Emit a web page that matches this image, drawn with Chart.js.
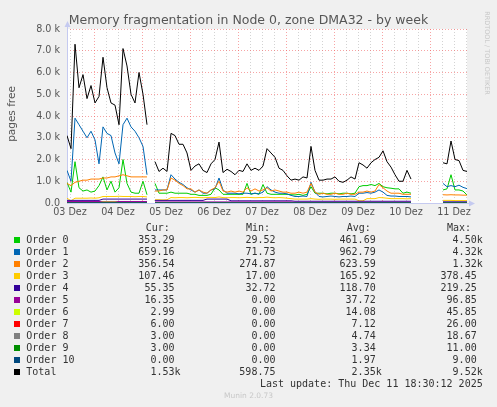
<!DOCTYPE html>
<html>
<head>
<meta charset="utf-8">
<script src="https://cdn.jsdelivr.net/npm/chart.js@4/dist/chart.umd.min.js"></script>
<style>
  body { margin: 0; background: #f0f0f0; }
  #wrap { position: relative; width: 497px; height: 407px; overflow: hidden; }
  #c { position: absolute; left: 0; top: 0; }
  .txt { position: absolute; white-space: pre; }
  .title { left: 0; width: 497px; top: 13px; text-align: center; font: 12.5px "DejaVu Sans"; line-height: 14px; color: #555; }
  .ylab { left: -39px; top: 107px; width: 100px; height: 14px; text-align: center; font: 10.5px "DejaVu Sans"; line-height: 14px; color: #555; transform: rotate(-90deg); }
  .rrd { left: 427px; top: 48px; width: 120px; height: 10px; text-align: center; font: 6.5px "DejaVu Sans"; line-height: 10px; color: #c8c8c8; transform: rotate(90deg); }
  .leg { font: 10px "DejaVu Sans Mono"; line-height: 12px; color: #333; }
  .sq { position: absolute; width: 6px; height: 6px; }
  .munin { left: 0; width: 497px; text-align: center; top: 391px; font: 7.5px "DejaVu Sans"; line-height: 9px; color: #c8c8c8; }
</style>
</head>
<body>
<div id="wrap">
  <canvas id="c" width="497" height="407"></canvas>
  <div class="txt title">Memory fragmentation in Node 0, zone DMA32 - by week</div>
  <div class="txt ylab">pages free</div>
  <div class="txt rrd">RRDTOOL / TOBI OETIKER</div>
  <div id="legend"></div>
  <div class="txt munin">Munin 2.0.73</div>
</div>
<script>
// --- data (pages free, in thousands), one sample every 2 hours from 03 Dez 10:30 ---
const dayLabels = ['03 Dez', '04 Dez', '05 Dez', '06 Dez', '07 Dez', '08 Dez', '09 Dez', '10 Dez', '11 Dez'];
const hours = Array.from({ length: 101 }, (_, i) => i * 2);

const total = [3.1, 2.5, 7.3, 5.3, 5.9, 4.8, 5.4, 4.6, 4.9, 6.7,
  5.3, 4.6, 4.5, 3.6, 7.1, 6.3, 5.0, 4.6, 6.0, 5.0,
  3.6, null, 1.9, 1.45, 1.6, 1.45, 3.2, 3.1, 2.7, 2.7,
  2.3, 1.5, 1.7, 1.8, 1.5, 1.4, 1.8, 2.0, 2.8, 1.4,
  1.55, 1.45, 1.3, 1.5, 1.45, 1.8, 1.5, 1.6, 1.5, 1.7,
  2.5, 2.3, 2.1, 1.6, 1.5, 1.25, 1.05, 1.1, 1.05, 1.2,
  1.15, 2.6, 1.5, 1.05, 1.05, 1.1, 1.1, 1.2, 1.0, 0.95,
  1.05, 1.2, 1.1, 1.85, 1.75, 1.6, 1.85, 2.0, 2.1, 2.4,
  1.9, 1.65, 1.3, 1.0, 1.0, 1.5, 1.1, null, null, null,
  null, null, null, null, 1.85, 1.8, 2.85, 2.0, 1.95, 1.5,
  1.45];

const order0 = [0.95, 0.5, 1.9, 0.7, 0.55, 0.6, 0.5, 0.55, 0.8, 1.2,
  0.6, 1.0, 0.5, 0.7, 2.0, 0.9, 0.5, 0.45, 0.45, 1.0,
  0.38, null, 0.9, 0.45, 0.45, 0.45, 0.5, 0.45, 0.45, 0.45,
  0.45, 0.4, 0.4, 0.35, 0.35, 0.35, 0.4, 0.7, 0.6, 0.4,
  0.4, 0.4, 0.4, 0.4, 0.4, 0.9, 0.4, 0.45, 0.4, 0.85,
  0.45, 0.4, 0.4, 0.4, 0.4, 0.4, 0.38, 0.37, 0.4, 0.35,
  0.4, 0.75, 0.45, 0.45, 0.45, 0.42, 0.45, 0.45, 0.42, 0.45,
  0.45, 0.42, 0.45, 0.75, 0.8, 0.8, 0.85, 0.8, 0.9, 0.75,
  0.7, 0.68, 0.65, 0.65, 0.45, 0.5, 0.45, null, null, null,
  null, null, null, null, 0.6, 0.65, 1.3, 0.6, 0.6, 0.55,
  0.37];

const order1 = [1.5, 1.0, 3.9, 3.6, 3.3, 3.0, 3.3, 2.9, 1.8, 3.5,
  3.2, 3.1, 2.3, 1.8, 3.6, 3.9, 3.5, 3.3, 3.0, 2.6,
  1.3, null, 0.6, 0.6, 0.6, 0.6, 1.3, 1.1, 0.95, 0.85,
  0.7, 0.6, 0.5, 0.6, 0.45, 0.45, 0.6, 0.65, 1.15, 0.6,
  0.45, 0.45, 0.45, 0.42, 0.45, 0.45, 0.42, 0.45, 0.42, 0.5,
  0.75, 0.6, 0.5, 0.45, 0.45, 0.42, 0.35, 0.3, 0.3, 0.32,
  0.3, 0.95, 0.5, 0.3, 0.28, 0.3, 0.32, 0.3, 0.28, 0.3,
  0.3, 0.32, 0.3, 0.45, 0.45, 0.48, 0.45, 0.5, 0.6, 0.5,
  0.35, 0.32, 0.32, 0.3, 0.3, 0.3, 0.28, null, null, null,
  null, null, null, null, 0.9, 0.75, 0.8, 0.75, 0.82, 0.72,
  0.66];

const order2 = [0.9, 0.8, 0.95, 1.0, 1.05, 1.05, 1.1, 1.1, 1.1, 1.15,
  1.15, 1.2, 1.2, 1.25, 1.3, 1.25, 1.2, 1.2, 1.2, 1.2,
  1.2, null, 0.55, 0.55, 0.6, 0.6, 1.15, 1.05, 0.9, 0.8,
  0.65, 0.65, 0.5, 0.6, 0.5, 0.45, 0.6, 0.7, 1.0, 0.55,
  0.5, 0.55, 0.5, 0.55, 0.5, 0.7, 0.55, 0.65, 0.55, 0.6,
  0.7, 0.55, 0.6, 0.55, 0.5, 0.5, 0.45, 0.45, 0.5, 0.45,
  0.5, 0.9, 0.5, 0.4, 0.45, 0.4, 0.4, 0.45, 0.4, 0.4,
  0.45, 0.4, 0.4, 0.5, 0.5, 0.55, 0.5, 0.55, 0.85, 0.7,
  0.55, 0.45, 0.45, 0.45, 0.4, 0.4, 0.4, null, null, null,
  null, null, null, null, 0.38, 0.37, 0.38, 0.37, 0.37, 0.36,
  0.36];

const order3 = [0.22, 0.1, 0.22, 0.22, 0.22, 0.22, 0.23, 0.22, 0.24, 0.3,
  0.3, 0.3, 0.3, 0.31, 0.3, 0.3, 0.3, 0.29, 0.3, 0.3,
  0.28, null, 0.15, 0.15, 0.14, 0.15, 0.25, 0.24, 0.25, 0.25,
  0.24, 0.25, 0.26, 0.25, 0.24, 0.25, 0.26, 0.25, 0.28, 0.25,
  0.24, 0.25, 0.25, 0.24, 0.25, 0.26, 0.25, 0.24, 0.25, 0.25,
  0.27, 0.25, 0.24, 0.25, 0.24, 0.22, 0.2, 0.18, 0.18, 0.18,
  0.18, 0.2, 0.18, 0.17, 0.18, 0.18, 0.18, 0.17, 0.18, 0.18,
  0.18, 0.18, 0.18, 0.1, 0.1, 0.2, 0.2, 0.2, 0.25, 0.24,
  0.22, 0.2, 0.2, 0.2, 0.2, 0.19, 0.2, null, null, null,
  null, null, null, null, 0.12, 0.12, 0.12, 0.11, 0.11, 0.11,
  0.107];

const order4 = [0.12, 0.12, 0.12, 0.12, 0.12, 0.12, 0.12, 0.12, 0.12, 0.18,
  0.18, 0.18, 0.18, 0.18, 0.18, 0.18, 0.18, 0.18, 0.18, 0.18,
  0.18, null, 0.12, 0.12, 0.12, 0.12, 0.12, 0.12, 0.12, 0.12,
  0.12, 0.12, 0.12, 0.12, 0.12, 0.18, 0.18, 0.18, 0.18, 0.18,
  0.18, 0.1, 0.1, 0.1, 0.1, 0.1, 0.1, 0.1, 0.1, 0.1,
  0.1, 0.1, 0.1, 0.1, 0.1, 0.1, 0.1, 0.08, 0.08, 0.08,
  0.08, 0.08, 0.08, 0.08, 0.08, 0.08, 0.08, 0.08, 0.08, 0.08,
  0.08, 0.08, 0.08, 0.08, 0.08, 0.08, 0.08, 0.08, 0.08, 0.08,
  0.08, 0.08, 0.08, 0.08, 0.08, 0.08, 0.08, null, null, null,
  null, null, null, null, 0.055, 0.055, 0.055, 0.055, 0.055, 0.055,
  0.055];

const order5 = [0.07, 0.07, 0.07, 0.07, 0.07, 0.07, 0.07, 0.07, 0.07, 0.07,
  0.07, 0.07, 0.07, 0.07, 0.07, 0.07, 0.07, 0.07, 0.07, 0.07,
  0.07, null, 0.05, 0.05, 0.05, 0.05, 0.05, 0.05, 0.05, 0.05,
  0.05, 0.05, 0.05, 0.05, 0.05, 0.05, 0.05, 0.05, 0.05, 0.05,
  0.05, 0.05, 0.05, 0.05, 0.05, 0.05, 0.05, 0.05, 0.05, 0.05,
  0.05, 0.05, 0.05, 0.05, 0.05, 0.05, 0.05, 0.035, 0.035, 0.035,
  0.035, 0.035, 0.035, 0.035, 0.035, 0.035, 0.035, 0.035, 0.035, 0.035,
  0.035, 0.035, 0.035, 0.035, 0.035, 0.035, 0.035, 0.035, 0.035, 0.035,
  0.035, 0.035, 0.035, 0.035, 0.035, 0.035, 0.035, null, null, null,
  null, null, null, null, 0.016, 0.016, 0.016, 0.016, 0.016, 0.016,
  0.016];

const order6 = [0.02, 0.02, 0.02, 0.02, 0.02, 0.02, 0.02, 0.02, 0.02, 0.045,
  0.045, 0.045, 0.045, 0.02, 0.02, 0.02, 0.02, 0.02, 0.02, 0.02,
  0.02, null, 0.02, 0.02, 0.02, 0.02, 0.02, 0.02, 0.02, 0.02,
  0.02, 0.02, 0.02, 0.02, 0.02, 0.02, 0.02, 0.02, 0.02, 0.02,
  0.02, 0.01, 0.01, 0.01, 0.01, 0.01, 0.01, 0.01, 0.01, 0.01,
  0.01, 0.01, 0.01, 0.01, 0.01, 0.01, 0.01, 0.01, 0.01, 0.01,
  0.01, 0.01, 0.01, 0.01, 0.01, 0.01, 0.01, 0.01, 0.01, 0.01,
  0.01, 0.01, 0.01, 0.01, 0.01, 0.01, 0.01, 0.01, 0.01, 0.01,
  0.01, 0.01, 0.01, 0.01, 0.01, 0.01, 0.01, null, null, null,
  null, null, null, null, 0.003, 0.003, 0.003, 0.003, 0.003, 0.003,
  0.003];

const order7 = [0.012, 0.012, 0.012, 0.012, 0.012, 0.012, 0.012, 0.012, 0.012, 0.012,
  0.012, 0.012, 0.012, 0.012, 0.012, 0.012, 0.012, 0.012, 0.012, 0.012,
  0.012, null, 0.007, 0.007, 0.007, 0.007, 0.007, 0.007, 0.007, 0.007,
  0.007, 0.007, 0.007, 0.007, 0.007, 0.007, 0.007, 0.007, 0.007, 0.007,
  0.007, 0.007, 0.007, 0.007, 0.007, 0.007, 0.007, 0.007, 0.007, 0.007,
  0.007, 0.007, 0.007, 0.007, 0.007, 0.007, 0.007, 0.007, 0.007, 0.007,
  0.007, 0.007, 0.007, 0.007, 0.007, 0.007, 0.007, 0.007, 0.007, 0.007,
  0.007, 0.007, 0.007, 0.007, 0.007, 0.007, 0.007, 0.007, 0.007, 0.007,
  0.007, 0.007, 0.007, 0.007, 0.007, 0.007, 0.007, null, null, null,
  null, null, null, null, 0.006, 0.006, 0.006, 0.006, 0.006, 0.006,
  0.006];

const order8 = [0.008, 0.008, 0.008, 0.008, 0.008, 0.008, 0.008, 0.008, 0.008, 0.008,
  0.008, 0.008, 0.008, 0.008, 0.008, 0.008, 0.008, 0.008, 0.008, 0.008,
  0.008, null, 0.004, 0.004, 0.004, 0.004, 0.004, 0.004, 0.004, 0.004,
  0.004, 0.004, 0.004, 0.004, 0.004, 0.004, 0.004, 0.004, 0.004, 0.004,
  0.004, 0.004, 0.004, 0.004, 0.004, 0.004, 0.004, 0.004, 0.004, 0.004,
  0.004, 0.004, 0.004, 0.004, 0.004, 0.004, 0.004, 0.004, 0.004, 0.004,
  0.004, 0.004, 0.004, 0.004, 0.004, 0.004, 0.004, 0.004, 0.004, 0.004,
  0.004, 0.004, 0.004, 0.004, 0.004, 0.004, 0.004, 0.004, 0.004, 0.004,
  0.004, 0.004, 0.004, 0.004, 0.004, 0.004, 0.004, null, null, null,
  null, null, null, null, 0.003, 0.003, 0.003, 0.003, 0.003, 0.003,
  0.003];

const order9 = [0.005, 0.005, 0.005, 0.005, 0.005, 0.005, 0.005, 0.005, 0.005, 0.005,
  0.005, 0.005, 0.005, 0.005, 0.005, 0.005, 0.005, 0.005, 0.005, 0.005,
  0.005, null, 0.003, 0.003, 0.003, 0.003, 0.003, 0.003, 0.003, 0.003,
  0.003, 0.003, 0.003, 0.003, 0.003, 0.003, 0.003, 0.003, 0.003, 0.003,
  0.003, 0.003, 0.003, 0.003, 0.003, 0.003, 0.003, 0.003, 0.003, 0.003,
  0.003, 0.003, 0.003, 0.003, 0.003, 0.003, 0.003, 0.003, 0.003, 0.003,
  0.003, 0.003, 0.003, 0.003, 0.003, 0.003, 0.003, 0.003, 0.003, 0.003,
  0.003, 0.003, 0.003, 0.003, 0.003, 0.003, 0.003, 0.003, 0.003, 0.003,
  0.003, 0.003, 0.003, 0.003, 0.003, 0.003, 0.003, null, null, null,
  null, null, null, null, 0.003, 0.003, 0.003, 0.003, 0.003, 0.003,
  0.003];

const order10 = [0.004, 0.004, 0.004, 0.004, 0.004, 0.004, 0.004, 0.004, 0.004, 0.004,
  0.004, 0.004, 0.004, 0.004, 0.004, 0.004, 0.004, 0.004, 0.004, 0.004,
  0.004, null, 0.002, 0.002, 0.002, 0.002, 0.002, 0.002, 0.002, 0.002,
  0.002, 0.002, 0.002, 0.002, 0.002, 0.002, 0.002, 0.002, 0.002, 0.002,
  0.002, 0.002, 0.002, 0.002, 0.002, 0.002, 0.002, 0.002, 0.002, 0.002,
  0.002, 0.002, 0.002, 0.002, 0.002, 0.002, 0.002, 0.002, 0.002, 0.002,
  0.002, 0.002, 0.002, 0.002, 0.002, 0.002, 0.002, 0.002, 0.002, 0.002,
  0.002, 0.002, 0.002, 0.002, 0.002, 0.002, 0.002, 0.002, 0.002, 0.002,
  0.002, 0.002, 0.002, 0.002, 0.002, 0.002, 0.002, null, null, null,
  null, null, null, null, 0, 0, 0, 0, 0, 0,
  0];

// legend table
const seriesNames = ['Order 0', 'Order 1', 'Order 2', 'Order 3', 'Order 4', 'Order 5',
  'Order 6', 'Order 7', 'Order 8', 'Order 9', 'Order 10', 'Total'];
const seriesColors = ['#00CC00', '#0066B3', '#FF8000', '#FFCC00', '#330099', '#990099',
  '#CCFF00', '#FF0000', '#808080', '#008F00', '#00487D', '#000000'];
const curText = ['353.29', '659.16', '356.54', '107.46', '55.35', '16.35', '2.99', '6.00', '3.00', '3.00', '0.00', '1.53k'];
const minText = ['29.52', '71.73', '274.87', '17.00', '32.72', '0.00', '0.00', '0.00', '0.00', '0.00', '0.00', '598.75'];
const avgText = ['461.69', '962.79', '623.59', '165.92', '118.70', '37.72', '14.08', '7.12', '4.74', '3.34', '1.97', '2.35k'];
const maxText = ['4.50k', '4.32k', '1.32k', '378.45', '219.25', '96.85', '45.85', '26.00', '18.67', '11.00', '9.00', '9.52k'];
const seriesData = [order0, order1, order2, order3, order4, order5, order6, order7, order8, order9, order10, total];

// --- legend (html text) ---
function buildLegend() {
    const box = document.getElementById('legend');
    let html = '';
    const heads = [['Cur:', 145.7], ['Min:', 246], ['Avg:', 346.7], ['Max:', 447]];
    heads.forEach(h => {
        html += `<div class="txt leg" style="left:${h[1]}px;top:222px">${h[0]}</div>`;
    });
    const colRight = [316.5, 215.5, 115.3, 14.3]; // distance from right edge
    seriesNames.forEach((name, i) => {
        const top = 233.7 + i * 12;
        html += `<div class="sq" style="left:14px;top:${top + 3}px;background:${seriesColors[i]}"></div>`;
        html += `<div class="txt leg" style="left:26.3px;top:${top}px">${name}</div>`;
        [curText[i], minText[i], avgText[i], maxText[i]].forEach((v, c) => {
            const s = v.endsWith('k') ? v : v + ' ';
            html += `<div class="txt leg" style="right:${colRight[c]}px;top:${top}px">${s}</div>`;
        });
    });
    html += `<div class="txt leg" style="right:14.3px;top:377.7px">Last update: Thu Dec 11 18:30:12 2025</div>`;
    box.innerHTML = html;
}

// --- chart ---
const MAJOR = 'rgba(240, 90, 90, 0.55)';
const MINOR = 'rgba(175, 175, 175, 0.55)';
const AXIS = '#c5caf0';

const plotBg = {
    id: 'plotBg',
    beforeDraw(chart) {
        const a = chart.chartArea, ctx = chart.ctx;
        ctx.save();
        ctx.fillStyle = '#ffffff';
        ctx.fillRect(a.left, a.top, a.right - a.left, a.bottom - a.top);
        ctx.restore();
    },
    beforeDatasetsDraw(chart) {
        // rrdtool style axes with arrow heads
        const a = chart.chartArea, ctx = chart.ctx;
        const x0 = Math.round(a.left) + 0.5, y0 = Math.round(a.bottom) + 0.5;
        ctx.save();
        ctx.strokeStyle = AXIS;
        ctx.fillStyle = AXIS;
        ctx.lineWidth = 1;
        ctx.beginPath();
        ctx.moveTo(x0, y0); ctx.lineTo(x0, a.top - 3);
        ctx.moveTo(x0, y0); ctx.lineTo(a.right + 3, y0);
        ctx.stroke();
        ctx.beginPath();
        ctx.moveTo(x0 - 3, a.top - 2); ctx.lineTo(x0 + 3, a.top - 2); ctx.lineTo(x0, a.top - 8);
        ctx.closePath(); ctx.fill();
        ctx.beginPath();
        ctx.moveTo(a.right + 2, y0 - 3); ctx.lineTo(a.right + 2, y0 + 3); ctx.lineTo(a.right + 8, y0);
        ctx.closePath(); ctx.fill();
        ctx.restore();
    }
};

document.addEventListener('DOMContentLoaded', () => {
    buildLegend();

    const datasets = seriesNames.map((name, i) => ({
        label: name,
        data: hours.map((h, j) => ({ x: h, y: seriesData[i][j] })),
        borderColor: seriesColors[i],
        backgroundColor: seriesColors[i],
        borderWidth: 1,
        pointRadius: 0,
        tension: 0,
        spanGaps: false,
        order: seriesNames.length - i // Total drawn last (on top)
    }));

    // 6 hour grid, labels at noon, red line at midnight
    const xTicks = [];
    for (let t = 1.5; t <= 200; t += 6) xTicks.push(t);
    const yTicks = [];
    for (let v = 0; v <= 8; v += 0.5) yTicks.push(v);

    new Chart(document.getElementById('c'), {
        type: 'line',
        data: { datasets },
        plugins: [plotBg],
        options: {
            responsive: false,
            animation: false,
            layout: { padding: { left: 0, right: 30, top: 29, bottom: 184 } },
            plugins: { legend: { display: false }, tooltip: { enabled: false }, title: { display: false } },
            scales: {
                x: {
                    type: 'linear', min: 0, max: 200,
                    afterFit: s => { s.height = 20; },
                    afterBuildTicks: s => { s.ticks = xTicks.map(v => ({ value: v })); },
                    grid: {
                        drawTicks: false, lineWidth: 1,
                        color: c => ((c.tick.value - 13.5) % 24 === 0 ? MAJOR : MINOR)
                    },
                    border: { display: false, dash: [1, 2] },
                    ticks: {
                        autoSkip: false, maxRotation: 0, padding: 4, color: '#555',
                        font: { family: 'DejaVu Sans', size: 9.6 },
                        callback: v => ((v - 1.5) % 24 === 0 ? dayLabels[(v - 1.5) / 24] : '')
                    }
                },
                y: {
                    min: 0, max: 8,
                    afterFit: s => { s.width = 67; },
                    afterBuildTicks: s => { s.ticks = yTicks.map(v => ({ value: v })); },
                    grid: {
                        drawTicks: false, lineWidth: 1,
                        color: c => (c.tick.value % 1 === 0 ? MAJOR : MINOR)
                    },
                    border: { display: false, dash: [1, 2] },
                    ticks: {
                        padding: 7, color: '#555',
                        font: { family: 'DejaVu Sans', size: 9.6 },
                        callback: v => (v % 1 !== 0 ? '' : (v === 0 ? '0.0' : v.toFixed(1) + ' k'))
                    }
                }
            }
        }
    });
});
</script>
</body>
</html>
